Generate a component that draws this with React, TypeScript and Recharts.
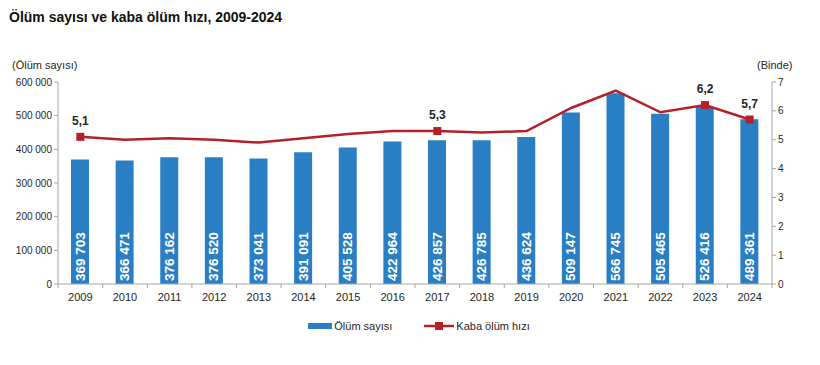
import React from 'react';
import { ComposedChart, Bar, Line, XAxis, YAxis, LabelList, Legend } from 'recharts';

const years = ['2009','2010','2011','2012','2013','2014','2015','2016','2017','2018','2019','2020','2021','2022','2023','2024'];
const deaths = [369703,366471,376162,376520,373041,391091,405528,422964,426857,426785,436624,509147,566745,505465,526416,489361];
const rates = [5.1,5.0,5.05,5.0,4.9,5.05,5.2,5.3,5.3,5.25,5.3,6.1,6.7,5.95,6.2,5.7];
const markedYears = ['2009','2017','2023','2024'];
const leftTicks = [0,100000,200000,300000,400000,500000,600000];
const rightTicks = [0,1,2,3,4,5,6,7];

const data = years.map((y, i) => ({ year: y, deaths: deaths[i], rate: rates[i] }));

const FONT = '"Liberation Sans", Arial, sans-serif';
const BLUE = '#2a7fc4';
const RED = '#b3202a';
const AXIS = '#a6a6a6';
const TXT = '#262626';

const fmtThousands = (v: number) => String(v).replace(/\B(?=(\d{3})+(?!\d))/g, ' ');
const fmtRate = (v: number) => v.toFixed(1).replace('.', ',');

const XTick = (props: any) => {
  const { x, y, payload, index } = props;
  const half = 22.3;
  return (
    <g>
      {index === 0 && <line x1={x - half} y1={y - 8} x2={x - half} y2={y - 4} stroke={AXIS} />}
      <line x1={x + half} y1={y - 8} x2={x + half} y2={y - 4} stroke={AXIS} />
      <text x={x} y={y + 9} textAnchor="middle" fontFamily={FONT} fontSize={11} fill={TXT}>{payload.value}</text>
    </g>
  );
};

const LeftTick = (props: any) => {
  const { x, y, payload } = props;
  return (
    <text x={x} y={y} textAnchor="end" dominantBaseline="central" fontFamily={FONT} fontSize={10} fill={TXT}>
      {fmtThousands(payload.value)}
    </text>
  );
};

const RightTick = (props: any) => {
  const { x, y, payload } = props;
  return (
    <text x={x} y={y} textAnchor="start" dominantBaseline="central" fontFamily={FONT} fontSize={10} fill={TXT}>
      {payload.value}
    </text>
  );
};

const BarLabel = (props: any) => {
  const { x, y, width, height, value } = props;
  const cx = x + width / 2;
  const by = y + height - 3;
  return (
    <text x={cx} y={by} transform={`rotate(-90 ${cx} ${by})`} textAnchor="start" dominantBaseline="central"
      fontFamily={FONT} fontSize={13.5} fontWeight="bold" fill="#ffffff">{fmtThousands(value)}</text>
  );
};

const RateDot = (props: any) => {
  const { cx, cy, payload } = props;
  if (!markedYears.includes(payload.year)) return <g key={payload.year} />;
  return <rect key={payload.year} x={cx - 4} y={cy - 4} width={8} height={8} fill={RED} />;
};

const RateLabel = (props: any) => {
  const { x, y, value, index } = props;
  if (!markedYears.includes(years[index])) return null;
  return (
    <text x={x} y={y - 12} textAnchor="middle" fontFamily={FONT} fontSize={12} fontWeight="bold" fill={TXT}>{fmtRate(value)}</text>
  );
};

const LegendContent = () => (
  <div style={{ display: 'flex', justifyContent: 'center', alignItems: 'center', fontFamily: FONT, fontSize: 11, color: TXT, paddingLeft: 18 }}>
    <svg width={24} height={8} style={{ marginRight: 2 }}><rect x={0} y={1} width={24} height={6} fill={BLUE} /></svg>
    <span style={{ marginRight: 32 }}>Ölüm sayısı</span>
    <svg width={30} height={10} style={{ marginRight: 2 }}>
      <line x1={0} y1={5} x2={30} y2={5} stroke={RED} strokeWidth={2.5} />
      <rect x={11} y={1} width={8} height={8} fill={RED} />
    </svg>
    <span>Kaba ölüm hızı</span>
  </div>
);

export default function App() {
  return (
    <div style={{ position: 'absolute', left: 0, top: 0, width: 820, height: 365, background: '#fff' }}>
      <div style={{ position: 'absolute', left: 9, top: 9, fontFamily: FONT, fontSize: 14, fontWeight: 'bold', color: '#111' }}>
        Ölüm sayısı ve kaba ölüm hızı, 2009-2024
      </div>
      <div style={{ position: 'absolute', left: 12, top: 59, fontFamily: FONT, fontSize: 11, color: TXT }}>(Ölüm sayısı)</div>
      <div style={{ position: 'absolute', left: 757, top: 59, fontFamily: FONT, fontSize: 11, color: TXT }}>(Binde)</div>
      <ComposedChart width={820} height={365} data={data} margin={{ top: 82, left: 0, right: 28, bottom: 61 }} barCategoryGap={0}>
        <XAxis dataKey="year" height={20} stroke={AXIS} tickLine={false} tick={<XTick />} interval={0} />
        <YAxis yAxisId="left" width={58} domain={[0, 600000]} ticks={leftTicks}
          stroke={AXIS} tickSize={4} tick={<LeftTick />} interval={0} />
        <YAxis yAxisId="right" orientation="right" width={20} domain={[0, 7]} ticks={rightTicks}
          stroke={AXIS} tickSize={4} tick={<RightTick />} interval={0} />
        <Legend verticalAlign="middle" layout="horizontal" wrapperStyle={{ top: 320, left: 0, width: 820 }} content={<LegendContent />} />
        <Bar yAxisId="left" dataKey="deaths" name="Ölüm sayısı" fill={BLUE} barSize={18} isAnimationActive={false}>
          <LabelList dataKey="deaths" content={<BarLabel />} />
        </Bar>
        <Line yAxisId="right" dataKey="rate" name="Kaba ölüm hızı" type="linear" stroke={RED} strokeWidth={2.5}
          dot={<RateDot />} activeDot={false} isAnimationActive={false}>
          <LabelList dataKey="rate" content={<RateLabel />} />
        </Line>
      </ComposedChart>
    </div>
  );
}
